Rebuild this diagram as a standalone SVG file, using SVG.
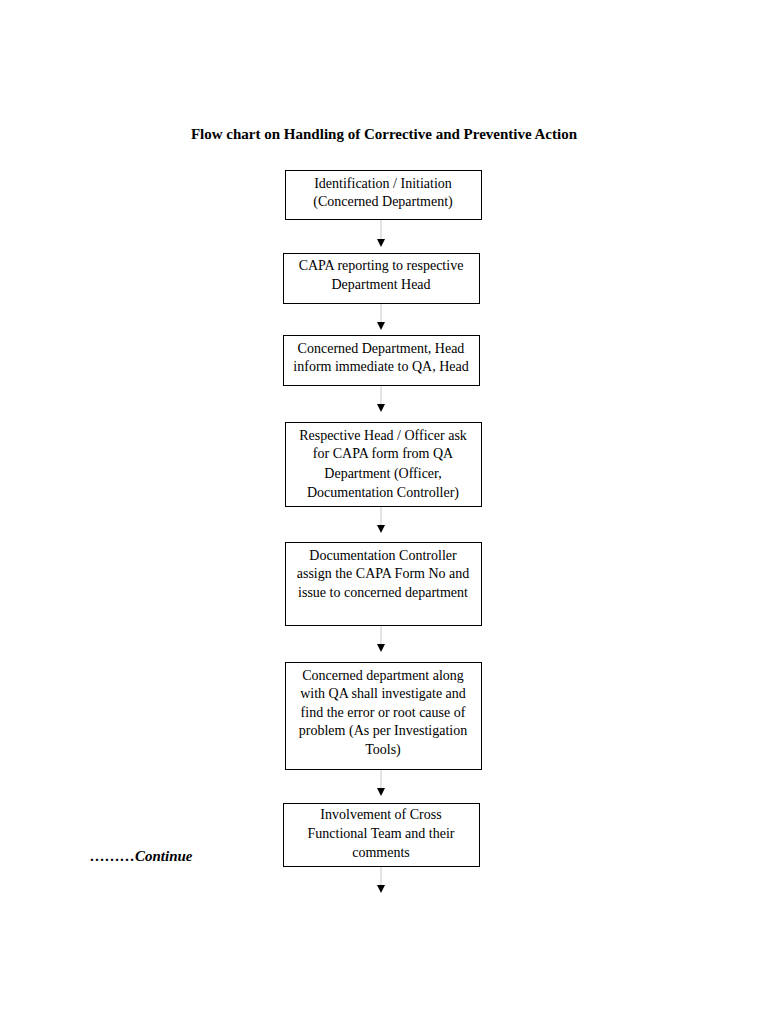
<svg xmlns="http://www.w3.org/2000/svg" width="768" height="1024" viewBox="0 0 768 1024">
<style>
.box{fill:#fff;stroke:#000;stroke-width:1}
.t{font-family:"Liberation Serif",serif;font-size:14px;fill:#000;text-anchor:middle}
.ln{stroke:#c8c8c8;stroke-width:1}
.ah{fill:#000}
</style>
<rect width="768" height="1024" fill="#fff"/>
<text x="384" y="139" font-family="Liberation Serif,serif" font-size="15" font-weight="bold" text-anchor="middle">Flow chart on Handling of Corrective and Preventive Action</text>
<text x="90" y="861" font-family="Liberation Serif,serif" font-size="15" font-weight="bold" font-style="italic">………Continue</text>
<g id="connectors">
<line class="ln" x1="381" y1="219" x2="381" y2="240"/><path class="ah" d="M377,239 L385,239 L381,247 Z"/>
<line class="ln" x1="381" y1="303" x2="381" y2="323"/><path class="ah" d="M377,322 L385,322 L381,330 Z"/>
<line class="ln" x1="381" y1="385" x2="381" y2="405"/><path class="ah" d="M377,404 L385,404 L381,412 Z"/>
<line class="ln" x1="381" y1="506" x2="381" y2="526"/><path class="ah" d="M377,525 L385,525 L381,533 Z"/>
<line class="ln" x1="381" y1="625" x2="381" y2="645"/><path class="ah" d="M377,644 L385,644 L381,652 Z"/>
<line class="ln" x1="381" y1="769" x2="381" y2="789"/><path class="ah" d="M377,788 L385,788 L381,796 Z"/>
<line class="ln" x1="381" y1="866" x2="381" y2="886"/><path class="ah" d="M377,885 L385,885 L381,893 Z"/>
</g>
<g id="n1"><rect class="box" x="285.5" y="170.5" width="196" height="49"/>
<text class="t" x="383" y="188">Identification / Initiation</text><text class="t" x="383" y="206">(Concerned Department)</text></g>
<g id="n2"><rect class="box" x="283.5" y="253.5" width="196" height="50"/>
<text class="t" x="381" y="270">CAPA reporting to respective</text><text class="t" x="381" y="289">Department Head</text></g>
<g id="n3"><rect class="box" x="283.5" y="335.5" width="196" height="50"/>
<text class="t" x="381" y="353">Concerned Department, Head</text><text class="t" x="381" y="371">inform immediate to QA, Head</text></g>
<g id="n4"><rect class="box" x="285.5" y="422.5" width="196" height="84"/>
<text class="t" x="383" y="440">Respective Head / Officer ask</text><text class="t" x="383" y="458">for CAPA form from QA</text><text class="t" x="383" y="478">Department (Officer,</text><text class="t" x="383" y="497">Documentation Controller)</text></g>
<g id="n5"><rect class="box" x="285.5" y="542.5" width="196" height="83"/>
<text class="t" x="383" y="560">Documentation Controller</text><text class="t" x="383" y="578">assign the CAPA Form No and</text><text class="t" x="383" y="597">issue to concerned department</text></g>
<g id="n6"><rect class="box" x="285.5" y="662.5" width="196" height="107"/>
<text class="t" x="383" y="680">Concerned department along</text><text class="t" x="383" y="698">with QA shall investigate and</text><text class="t" x="383" y="717">find the error or root cause of</text><text class="t" x="383" y="735">problem (As per Investigation</text><text class="t" x="383" y="754">Tools)</text></g>
<g id="n7"><rect class="box" x="283.5" y="803.5" width="196" height="63"/>
<text class="t" x="381" y="819">Involvement of Cross</text><text class="t" x="381" y="838">Functional Team and their</text><text class="t" x="381" y="857">comments</text></g>
</svg>
